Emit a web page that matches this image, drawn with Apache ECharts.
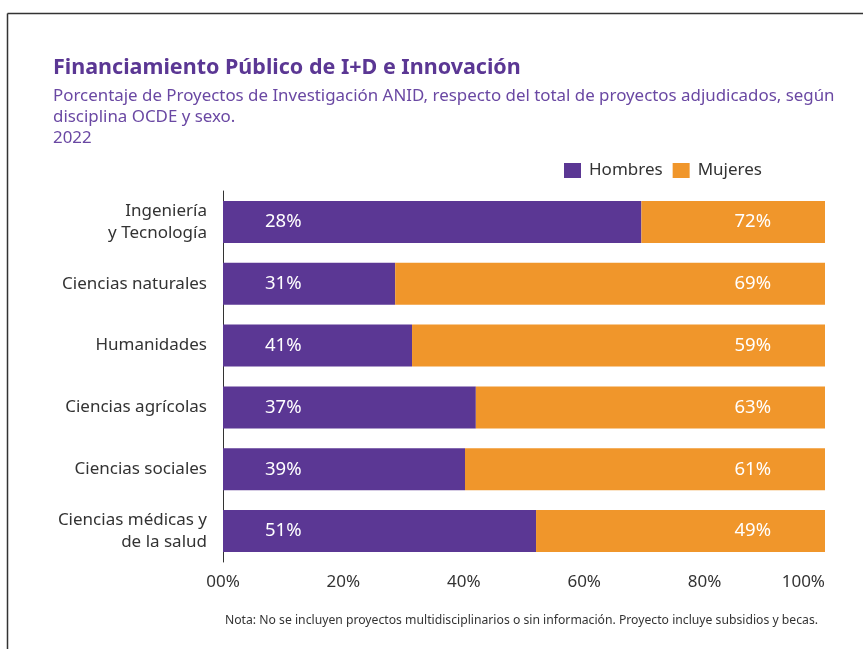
<!DOCTYPE html>
<html>
<head>
<meta charset="utf-8">
<script src="https://cdn.jsdelivr.net/npm/echarts@6/dist/echarts.min.js"></script>
<style>html,body{margin:0;padding:0;background:#fff;}#c{width:863px;height:649px;}</style>
</head>
<body>
<div id="c"></div>
<script>
const categories = ['Ingeniería\ny Tecnología', 'Ciencias naturales', 'Humanidades', 'Ciencias agrícolas', 'Ciencias sociales', 'Ciencias médicas y\nde la salud'];
// Bar lengths as drawn in the picture (percent)
const hombres = [69.5, 28.6, 31.4, 42.0, 40.2, 52.0];
const mujeres = [30.5, 71.4, 68.6, 58.0, 59.8, 48.0];
// Printed labels
const hombresLabel = ['28%', '31%', '41%', '37%', '39%', '51%'];
const mujeresLabel = ['72%', '69%', '59%', '63%', '61%', '49%'];
const xTicks = ['00%', '20%', '40%', '60%', '80%', '100%'];

const PURPLE = '#5b3794';
const ORANGE = '#f0962b';
const FONT = 'Noto Sans';

const chart = echarts.init(document.getElementById('c'), null, {renderer: 'canvas'});
chart.setOption({
  animation: false,
  textStyle: {fontFamily: FONT},
  title: {
    left: 53, top: 56,
    text: 'Financiamiento Público de I+D e Innovación',
    textStyle: {fontFamily: FONT, fontSize: 21.5, fontWeight: 'bold', color: PURPLE, lineHeight: 24},
    subtext: 'Porcentaje de Proyectos de Investigación ANID, respecto del total de proyectos adjudicados, según\ndisciplina OCDE y sexo.\n2022',
    subtextStyle: {fontFamily: FONT, fontSize: 16.9, color: '#6a48a3', lineHeight: 21},
    itemGap: 6,
    padding: 0
  },
  legend: {
    left: 564, top: 162,
    icon: 'rect',
    itemWidth: 17, itemHeight: 15,
    itemGap: 10,
    padding: 0,
    textStyle: {fontFamily: FONT, fontSize: 17, color: '#333', padding: [0, 0, 0, 3]},
    data: ['Hombres', 'Mujeres']
  },
  grid: {left: 223, right: 38, top: 191, height: 371, containLabel: false},
  xAxis: {
    type: 'value', min: 0, max: 100, interval: 20,
    axisLine: {show: false}, axisTick: {show: false}, splitLine: {show: false},
    axisLabel: {
      margin: 12, fontSize: 17, color: '#333', fontFamily: FONT,
      alignMaxLabel: 'right',
      formatter: function (v) { return xTicks[Math.round(v / 20)]; }
    }
  },
  yAxis: {
    type: 'category', inverse: true, data: categories,
    axisLine: {show: true, lineStyle: {color: '#333', width: 1}},
    axisTick: {show: false},
    axisLabel: {margin: 16, fontSize: 17, color: '#333', lineHeight: 22, fontFamily: FONT}
  },
  series: [
    {
      name: 'Hombres', type: 'bar', stack: 't', barWidth: 42,
      itemStyle: {color: PURPLE},
      label: {
        show: true, position: 'insideLeft', distance: 42,
        color: '#fff', fontSize: 18.5, fontFamily: FONT,
        formatter: function (p) { return hombresLabel[p.dataIndex]; }
      },
      data: hombres
    },
    {
      name: 'Mujeres', type: 'bar', stack: 't', barWidth: 42,
      itemStyle: {color: ORANGE},
      label: {
        show: true, position: 'insideRight', distance: 54,
        color: '#fff', fontSize: 18.5, fontFamily: FONT,
        formatter: function (p) { return mujeresLabel[p.dataIndex]; }
      },
      data: mujeres
    }
  ],
  graphic: [
    {type: 'line', shape: {x1: 7.5, y1: 13.5, x2: 863, y2: 13.5}, style: {stroke: '#333', lineWidth: 1.5}},
    {type: 'line', shape: {x1: 7.5, y1: 13.5, x2: 7.5, y2: 649}, style: {stroke: '#333', lineWidth: 1.5}},
    {type: 'text', x: 818, y: 621, style: {text: 'Nota: No se incluyen proyectos multidisciplinarios o sin información. Proyecto incluye subsidios y becas.', fill: '#333', fontSize: 12.2, fontFamily: FONT, align: 'right', verticalAlign: 'middle'}}
  ]
});
</script>
</body>
</html>
